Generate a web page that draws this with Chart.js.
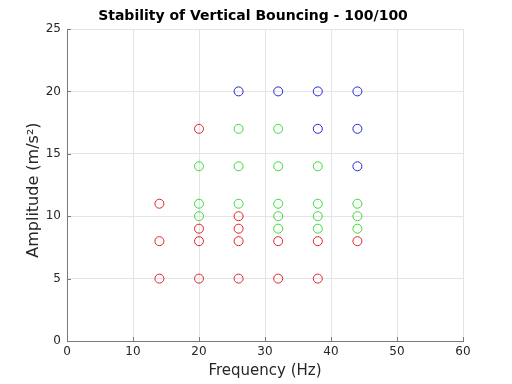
<!DOCTYPE html>
<html>
<head>
<meta charset="utf-8">
<script src="https://cdn.jsdelivr.net/npm/chart.js@4/dist/chart.umd.min.js"></script>
<style>
  html, body { margin: 0; padding: 0; background: #fff; }
  #wrap { width: 512px; height: 384px; }
</style>
</head>
<body>
<div id="wrap"><canvas id="c" width="512" height="384"></canvas></div>
<script>
// frequency (Hz) / amplitude (m/s^2) pairs per stability class
const redFreq = [14, 14, 14, 20, 20, 20, 20, 26, 26, 26, 26, 32, 32, 38, 38, 44]
const redAmp = [5, 8, 11, 5, 8, 9, 17, 5, 8, 9, 10, 5, 8, 5, 8, 8]

const greenFreq = [20, 20, 20, 26, 26, 26, 32, 32, 32, 32, 32, 38, 38, 38, 38, 44, 44, 44]
const greenAmp = [10, 11, 14, 11, 14, 17, 9, 10, 11, 14, 17, 9, 10, 11, 14, 9, 10, 11]

const blueFreq = [26, 32, 38, 38, 44, 44, 44]
const blueAmp = [20, 20, 17, 20, 14, 17, 20]

const xTicks = [0, 10, 20, 30, 40, 50, 60]
const yTicks = [0, 5, 10, 15, 20, 25]

const toPoints = (xs, ys) => xs.map((x, i) => ({ x, y: ys[i] }))

const ring = (color, xs, ys) => ({
  data: toPoints(xs, ys),
  borderColor: color,
  backgroundColor: 'rgba(0,0,0,0)',
  pointRadius: 4.5,
  pointBorderWidth: 1,
  pointHoverRadius: 4.5,
})

const FONT = '"DejaVu Sans", sans-serif'

// title + inward tick marks, like the matlab figure
const decor = {
  id: 'decor',
  afterDraw(chart) {
    const { ctx, chartArea, scales } = chart
    ctx.save()
    ctx.strokeStyle = '#7a7a7a'
    ctx.lineWidth = 1
    ctx.beginPath()
    xTicks.forEach((v) => {
      const px = Math.round(scales.x.getPixelForValue(v)) + 0.5
      ctx.moveTo(px, chartArea.bottom)
      ctx.lineTo(px, chartArea.bottom - 4)
    })
    yTicks.forEach((v) => {
      const py = Math.round(scales.y.getPixelForValue(v)) + 0.5
      ctx.moveTo(chartArea.left, py)
      ctx.lineTo(chartArea.left + 4, py)
    })
    ctx.stroke()

    ctx.fillStyle = '#000'
    ctx.font = 'bold 14px ' + FONT
    ctx.textAlign = 'center'
    ctx.textBaseline = 'alphabetic'
    ctx.fillText('Stability of Vertical Bouncing - 100/100', 253, 20)
    ctx.restore()
  },
}

new Chart(document.getElementById('c'), {
  type: 'scatter',
  data: {
    datasets: [
      ring('#e2222e', redFreq, redAmp),
      ring('#3ada3a', greenFreq, greenAmp),
      ring('#2626d6', blueFreq, blueAmp),
    ],
  },
  options: {
    responsive: false,
    animation: false,
    layout: { padding: { top: 29, right: 49, left: 0, bottom: 0 } },
    plugins: {
      legend: { display: false },
      tooltip: { enabled: false },
    },
    scales: {
      x: {
        type: 'linear',
        min: 0,
        max: 60,
        afterFit: (s) => { s.height = 43 },
        afterBuildTicks: (s) => { s.ticks = xTicks.map((v) => ({ value: v })) },
        grid: { color: '#e4e4e4', drawTicks: false },
        border: { color: '#7a7a7a', width: 1 },
        ticks: { color: '#262626', font: { family: FONT, size: 12 }, padding: 4, maxRotation: 0 },
        title: {
          display: true,
          text: 'Frequency (Hz)',
          color: '#262626',
          font: { family: FONT, size: 15 },
          padding: { top: 0, bottom: 4 },
        },
      },
      y: {
        type: 'linear',
        min: 0,
        max: 25,
        afterFit: (s) => { s.width = 67 },
        afterBuildTicks: (s) => { s.ticks = yTicks.map((v) => ({ value: v })) },
        grid: { color: '#e4e4e4', drawTicks: false },
        border: { color: '#7a7a7a', width: 1 },
        ticks: { color: '#262626', font: { family: FONT, size: 12 }, padding: 6 },
        title: {
          display: true,
          text: 'Amplitude (m/s²)  ',
          color: '#262626',
          font: { family: FONT, size: 16 },
          padding: { top: 24, bottom: 0 },
        },
      },
    },
  },
  plugins: [decor],
})
</script>
</body>
</html>
